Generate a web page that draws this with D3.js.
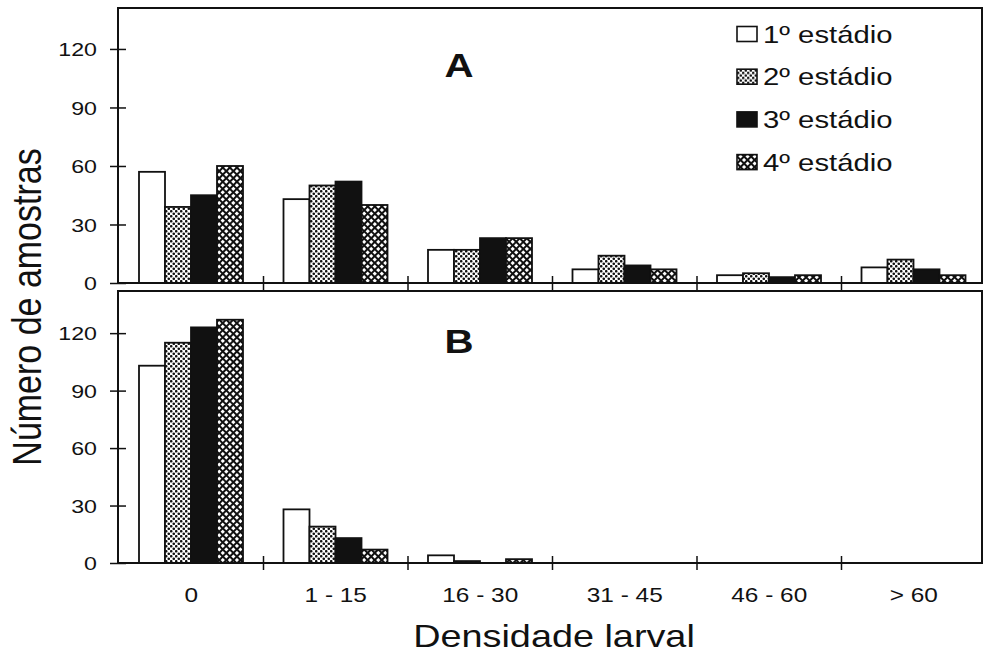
<!DOCTYPE html>
<html>
<head>
<meta charset="utf-8">
<script src="https://cdn.jsdelivr.net/npm/d3@7/dist/d3.min.js"></script>
<style>
  body { margin: 0; background: #fff; }
  text { font-family: "Liberation Sans", Arial, sans-serif; fill: #111; }
</style>
</head>
<body>
<svg id="chart"></svg>
<script>
// categories and series
var categories = ["0", "1 - 15", "16 - 30", "31 - 45", "46 - 60", "> 60"];
var stages = ["1º estádio", "2º estádio", "3º estádio", "4º estádio"];
var yTicks = [0, 30, 60, 90, 120];

// panel A
var stage1A = [57, 43, 17, 7, 4, 8];
var stage2A = [39, 50, 17, 14, 5, 12];
var stage3A = [45, 52, 23, 9, 3, 7];
var stage4A = [60, 40, 23, 7, 4, 4];

// panel B
var stage1B = [103, 28, 4, 0, 0, 0];
var stage2B = [115, 19, 1, 0, 0, 0];
var stage3B = [123, 13, 0, 0, 0, 0];
var stage4B = [127, 7, 2, 0, 0, 0];

var width = 985, height = 653;
var stretch = 1.22;   // the scan is wider than tall, text looks stretched

var svg = d3.select("#chart")
  .attr("width", width)
  .attr("height", height);

// fills
var defs = svg.append("defs");
var dots = defs.append("pattern")
  .attr("id", "dots")
  .attr("patternUnits", "userSpaceOnUse")
  .attr("width", 5).attr("height", 5);
dots.append("rect").attr("width", 5).attr("height", 5).attr("fill", "#fff");
dots.append("circle").attr("cx", 1.25).attr("cy", 1.25).attr("r", 1.3).attr("fill", "#111");
dots.append("circle").attr("cx", 3.75).attr("cy", 3.75).attr("r", 1.3).attr("fill", "#111");

var cross = defs.append("pattern")
  .attr("id", "cross")
  .attr("patternUnits", "userSpaceOnUse")
  .attr("patternTransform", "rotate(45)")
  .attr("width", 5).attr("height", 5);
cross.append("rect").attr("width", 5).attr("height", 5).attr("fill", "#fff");
cross.append("path").attr("d", "M0,1H5M1,0V5").attr("stroke", "#111").attr("stroke-width", 2);

var fills = ["#fff", "url(#dots)", "#111", "url(#cross)"];

var left = 118, right = 982;

var x0 = d3.scaleBand()
  .domain(categories)
  .range([119, 986]);

var x1 = d3.scaleBand()
  .domain(stages)
  .range([20, 124]);

var panels = [
  {name: "A", top: 8, bottom: 283, max: 141, values: [stage1A, stage2A, stage3A, stage4A], labelY: 77},
  {name: "B", top: 291, bottom: 563, max: 142, values: [stage1B, stage2B, stage3B, stage4B], labelY: 353}
];

panels.forEach(function(p) {
  var y = d3.scaleLinear()
    .domain([0, p.max])
    .range([p.bottom, p.top]);

  var g = svg.append("g").classed("panel", true);

  // bars
  p.values.forEach(function(vals, j) {
    var rows = categories.map(function(c, i) { return {cat: c, v: vals[i]}; })
      .filter(function(d) { return d.v > 0; });
    g.append("g").selectAll("rect")
      .data(rows)
      .enter()
      .append("rect")
      .attr("x", function(d) { return x0(d.cat) + x1(stages[j]); })
      .attr("y", function(d) { return y(d.v); })
      .attr("width", x1.bandwidth())
      .attr("height", function(d) { return p.bottom - y(d.v); })
      .attr("fill", fills[j])
      .attr("stroke", "#111")
      .attr("stroke-width", 1.8);
  });

  // frame
  g.append("rect")
    .attr("x", left).attr("y", p.top)
    .attr("width", right - left).attr("height", p.bottom - p.top)
    .attr("fill", "none")
    .attr("stroke", "#111")
    .attr("stroke-width", 2);

  // y axis
  var yAxis = g.append("g")
    .attr("transform", "translate(" + left + ",0)")
    .call(d3.axisLeft(y).tickValues(yTicks).tickSize(8));
  yAxis.select(".domain").remove();
  yAxis.selectAll(".tick line").attr("x1", -8).attr("x2", 8).attr("stroke", "#111").attr("stroke-width", 1.5);
  yAxis.selectAll(".tick text")
    .attr("x", 0)
    .attr("dy", "0.36em")
    .attr("transform", "translate(-21,0) scale(" + stretch + ",1)")
    .style("font-size", "19px")
    .style("font-family", "'Liberation Sans', Arial, sans-serif")
    .attr("fill", "#111");

  // category boundary ticks
  g.append("g").selectAll("line")
    .data(categories.slice(1))
    .enter()
    .append("line")
    .attr("x1", function(d) { return x0(d); })
    .attr("x2", function(d) { return x0(d); })
    .attr("y1", p.bottom - 7)
    .attr("y2", p.bottom + 7)
    .attr("stroke", "#111")
    .attr("stroke-width", 1.5);

  // panel letter
  g.append("text")
    .attr("transform", "translate(459," + p.labelY + ") scale(" + stretch + ",1)")
    .attr("text-anchor", "middle")
    .style("font-size", "33px")
    .style("font-weight", "bold")
    .text(p.name);

  if (p.name == "B") {
    var xAxis = g.append("g")
      .attr("transform", "translate(0," + p.bottom + ")")
      .call(d3.axisBottom(x0).tickSize(0));
    xAxis.select(".domain").remove();
    xAxis.selectAll(".tick text")
      .attr("y", 0)
      .attr("dy", 0)
      .attr("transform", "translate(0,39) scale(" + stretch + ",1)")
      .style("font-size", "20px")
      .style("font-family", "'Liberation Sans', Arial, sans-serif")
      .attr("fill", "#111");
  }
});

// legend
var legend = svg.append("g")
  .classed("legend", true)
  .attr("transform", "translate(737,34)");

var legendLines = legend.selectAll("g")
  .data(stages)
  .enter()
  .append("g")
  .attr("transform", function(d, i) { return "translate(0," + (i * 42.7) + ")"; });

legendLines.append("rect")
  .attr("x", 0).attr("y", -7.5)
  .attr("width", 20).attr("height", 15)
  .attr("fill", function(d, i) { return fills[i]; })
  .attr("stroke", "#111")
  .attr("stroke-width", 1.6);

legendLines.append("text")
  .attr("transform", "translate(26,8.5) scale(" + stretch + ",1)")
  .style("font-size", "24px")
  .text(function(d) { return d; });

// axis titles
svg.append("text")
  .attr("transform", "translate(554,647) scale(" + stretch + ",1)")
  .attr("text-anchor", "middle")
  .style("font-size", "31px")
  .text("Densidade larval");

svg.append("text")
  .attr("transform", "translate(41,307) scale(" + stretch + ",1) rotate(-90)")
  .attr("text-anchor", "middle")
  .style("font-size", "34px")
  .text("Número de amostras");
</script>
</body>
</html>
